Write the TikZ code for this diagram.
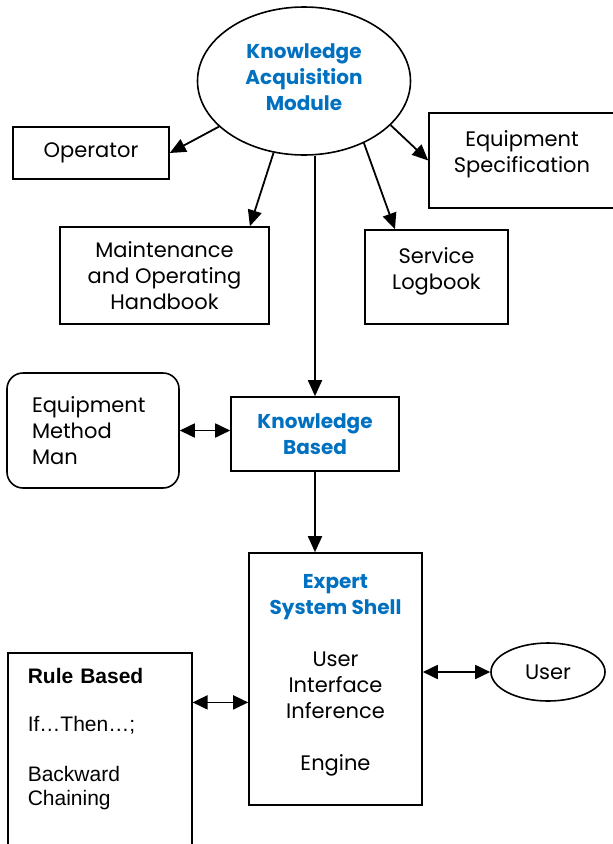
\documentclass[tikz,border=0pt]{standalone}
\usepackage{fontspec}
\setmainfont{Poppins}
\newfontfamily\arialfont{Liberation Sans}
\usetikzlibrary{arrows.meta,shapes.geometric}
\definecolor{headblue}{RGB}{0, 112, 192}
\tikzset{
  boxnode/.style={draw, line width=1.6pt, rectangle, align=center, inner sep=0pt,
                  font=\fontsize{21}{26}\selectfont},
  ovalnode/.style={draw, line width=1.6pt, ellipse, align=center, inner sep=0pt,
                   font=\fontsize{21}{26}\selectfont},
  headnode/.style={text=headblue, font=\bfseries\fontsize{20}{26}\selectfont},
  arr/.style={line width=1.8pt, -{Triangle[length=16pt,width=14pt]}},
  dblarr/.style={line width=1.8pt, {Triangle[length=15pt,width=14pt]}-{Triangle[length=15pt,width=14pt]}}
}
\begin{document}
\begin{tikzpicture}[x=1pt, y=-1pt]
            \useasboundingbox (0,0) rectangle (613,844);
            \node[ovalnode, headnode, minimum width=213pt, minimum height=148pt,
                  text height=68pt, text depth=10pt]                             (kam)      at (304.0,  81.0) {Knowledge\\Acquisition\\Module};
            \node[boxnode, minimum width=156pt, minimum height=52pt]             (operator) at ( 91.0, 153.0) {Operator};
            \node[boxnode, minimum width=186pt, minimum height=95pt,
                  text height=42pt, text depth=18pt]                             (eqspec)   at (522.0, 160.5) {Equipment\\Specification};
            \node[boxnode, minimum width=209pt, minimum height=97pt]             (maint)    at (164.5, 275.5) {Maintenance\\and Operating\\Handbook};
            \node[boxnode, minimum width=143pt, minimum height=94pt,
                  text height=42pt, text depth=17pt]                             (serv)     at (436.5, 277.0) {Service\\Logbook};
            \node[boxnode, rounded corners=16pt, align=left, text width=122pt,
                  inner xsep=25pt, minimum height=115pt]                         (emm)      at ( 93.0, 430.5) {Equipment\\Method\\Man};
            \node[boxnode, headnode, minimum width=168pt, minimum height=74pt]   (kb)       at (315.0, 434.0) {Knowledge\\Based};
            \node[boxnode, minimum width=173pt, minimum height=252pt,
                  text height=198pt, text depth=15pt]                            (ess)      at (335.5, 679.0)
                 {{\color{headblue}\bfseries\fontsize{20}{26}\selectfont Expert}\\{\color{headblue}\bfseries\fontsize{20}{26}\selectfont System Shell}\\[26pt]User\\Interface\\Inference\\[26pt]Engine};
            \node[ovalnode, minimum width=114pt, minimum height=58pt]            (user)     at (548.0, 672.0) {User};
            \node[boxnode, anchor=north west, align=left, text width=144pt, inner xsep=20pt,
                  minimum height=200pt, text height=16pt, text depth=155pt,
                  font=\arialfont\fontsize{21}{24}\selectfont]                   (rb)       at (  7.0, 652.0)
                 {\textbf{Rule Based}\\[24pt]If…Then…;\\[26pt]Backward\\Chaining};
            \draw[arr]    (kam)                  -- (operator.east);
            \draw[arr]    (kam.247)              -- (maint.30);
            \draw[arr]    (kam.south -| kb.north) -- (kb.north);
            \draw[arr]    (kam.314)              -- (serv.131);
            \draw[arr]    (kam.333)              -- (eqspec.west);
            \draw[dblarr] (emm.east)             -- (emm.east -| kb.west);
            \draw[arr]    (kb.south)             -- (kb.south |- ess.north);
            \draw[dblarr] (ess.195 -| rb.east)   -- (ess.195);
            \draw[dblarr] (ess.east |- user.west) -- (user.west);
        \end{tikzpicture}
\end{document}
